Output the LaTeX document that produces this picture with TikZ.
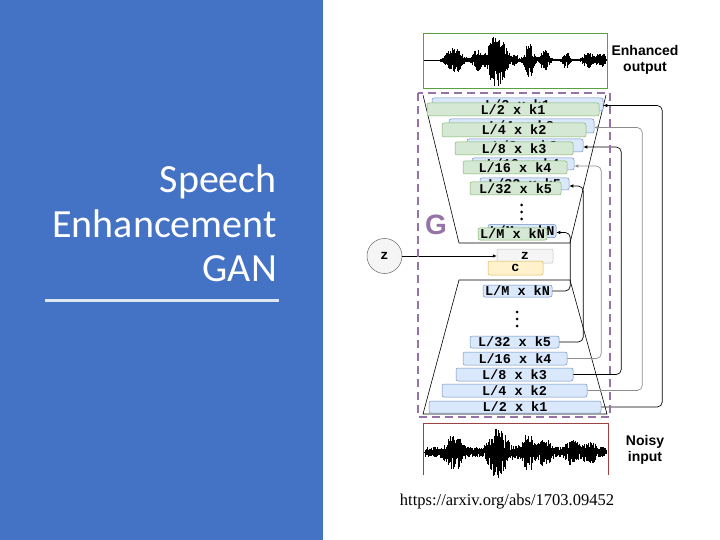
\documentclass[tikz,border=0pt]{standalone}
\usepackage{fontspec}
\setmainfont{Liberation Sans}
\newfontfamily\titlefont{Carlito}
\newfontfamily\layerfont{Liberation Mono}
\newfontfamily\urlfont{Liberation Serif}
\usetikzlibrary{arrows.meta}
\definecolor{panel}{HTML}{4472C4}
\definecolor{gfill}{HTML}{D5E8D4}
\definecolor{gdraw}{HTML}{82B366}
\definecolor{bfill}{HTML}{DAE8FC}
\definecolor{bdraw}{HTML}{6C8EBF}
\definecolor{purp}{HTML}{9673A6}
\definecolor{yfill}{HTML}{FFF2CC}
\definecolor{ydraw}{HTML}{D6B656}
\definecolor{zfill}{HTML}{F5F5F5}
\definecolor{zdraw}{HTML}{666666}
\definecolor{wavegreen}{HTML}{5AA03E}
\definecolor{wavered}{HTML}{A04040}
\definecolor{rulecol}{RGB}{222,230,244}
\pgfmathdeclarefunction{bump}{3}{\pgfmathparse{1/(1+(min(abs(#1-#2)/#3,10))^4)}}
\tikzset{
  layer/.style={rounded corners=2pt, inner sep=0pt, line width=0.5pt,
    font=\layerfont\bfseries\fontsize{13.5}{13.5}\selectfont},
  glayer/.style={layer, fill=gfill, draw=gdraw},
  blayer/.style={layer, fill=bfill, draw=bdraw},
  trap/.style={draw=black, line width=0.6pt},
  skipblack/.style={draw=black, line width=0.7pt, rounded corners=5pt, -{Latex[length=4pt,width=3.5pt]}},
  skipgray/.style={draw=black!45, line width=0.7pt, rounded corners=5pt, -{Latex[length=4pt,width=3.5pt]}},
  wave/.style={draw=black, line width=0.45pt},
  sidelabel/.style={font=\bfseries\fontsize{14}{16.5}\selectfont, align=center, inner sep=0pt},
  titleline/.style={font=\titlefont\fontsize{40}{44}\selectfont, text=white, anchor=base east, inner sep=0pt},
}
\begin{document}
\begin{tikzpicture}[x=1pt,y=-1pt]
\useasboundingbox (0,0) rectangle (720,540);
% left panel
\fill[panel] (0,0) rectangle (323,540);
\node[titleline] (t1) at (277,193) {Speech};
\node[titleline] (t2) at (277,237) {Enhancement};
\node[titleline] (t3) at (277,281) {GAN};
\draw[rulecol, line width=3pt] (45,300) -- (279,300);

% waveform boxes
\node[draw=wavegreen, line width=0.8pt, minimum width=184pt, minimum height=55pt, inner sep=0pt] (outbox) at (515,60.5) {};
\draw[wavered, line width=0.8pt] (423,475) -- (423,423) -- (608,423) -- (608,475);
\pgfmathsetseed{11}
\draw[wave] (424,60) -- (606,60);
\foreach \x in {440,440.5,...,606}{
  \pgfmathsetmacro\wamp{0.7 + 12*bump(\x,454,8) + 9*bump(\x,477,4) + 24*bump(\x,497,9) + 4*bump(\x,515,2.5) + 15*bump(\x,529,4.5) + 10*bump(\x,545,4) + 7*bump(\x,566,3.5) + 7*bump(\x,588,5) + 6*bump(\x,601,5)}
  \pgfmathsetmacro\wup{\wamp*(0.15+0.85*rnd^0.7)}
  \pgfmathsetmacro\wdn{\wamp*(0.15+0.95*rnd^0.7)}
  \draw[wave] (\x,60-\wup) -- (\x,60+\wdn);
}
\draw[wave] (424,452) -- (606,452);
\foreach \x in {425,425.5,...,606}{
  \pgfmathsetmacro\wamp{4.5 + 12*bump(\x,454,8) + 19*bump(\x,498,9) + 13*bump(\x,528,6) + 8*bump(\x,545,6) + 8*bump(\x,572,6) + 6*bump(\x,590,7)}
  \pgfmathsetmacro\wup{\wamp*(0.1+0.9*rnd^0.8)}
  \pgfmathsetmacro\wdn{\wamp*(0.1+1.0*rnd^0.8)}
  \draw[wave] (\x,452-\wup) -- (\x,452+\wdn);
}
\node[sidelabel] (enh) at (645,60) {Enhanced\\output};
\node[sidelabel] (noisy) at (645,450) {Noisy\\input};

% trapezoids
\draw[trap] (423,95) -- (459,243) -- (570,243) -- (606,95);
\draw[trap] (459,280) -- (570,280) -- (607,414) -- (423,414) -- cycle;

% encoder layers (top)
\node[blayer, minimum width=171pt, minimum height=13pt] (e1b) at (517.5,104.5) {L/2 x k1};
\node[glayer, minimum width=172pt, minimum height=13pt] (e1) at (513,109.5) {L/2 x k1};
\node[blayer, minimum width=145pt, minimum height=14pt] (e2b) at (521.5,126) {L/4 x k2};
\node[glayer, minimum width=144pt, minimum height=14pt] (e2) at (514,130) {L/4 x k2};
\node[blayer, minimum width=116pt, minimum height=13pt] (e3b) at (525,145.5) {L/8 x k3};
\node[glayer, minimum width=118pt, minimum height=13pt] (e3) at (514,148.5) {L/8 x k3};
\node[blayer, minimum width=102pt, minimum height=12pt] (e4b) at (523,164) {L/16 x k4};
\node[glayer, minimum width=104pt, minimum height=13pt] (e4) at (515,167.5) {L/16 x k4};
\node[blayer, minimum width=89pt, minimum height=12pt] (e5b) at (524.5,184) {L/32 x k5};
\node[glayer, minimum width=91pt, minimum height=13pt] (e5) at (515.5,188.5) {L/32 x k5};
\fill (521.5,205) circle (1.5) (521.5,212) circle (1.5) (521.5,219) circle (1.5);
\node[blayer, minimum width=68pt, minimum height=13pt] (eNb) at (522,231) {L/M x kN};
\node[glayer, minimum width=69pt, minimum height=12pt] (eN) at (512.5,234) {L/M x kN};

% latent
\node[draw=zdraw, fill=zfill, circle, minimum size=35pt, inner sep=0pt, line width=0.5pt,
  font=\layerfont\bfseries\fontsize{13.5}{13.5}\selectfont] (zc) at (384.5,256) {z};
\node[layer, fill=zfill, draw=black!25, minimum width=56pt, minimum height=14pt] (zb) at (525,256) {z};
\node[layer, fill=yfill, draw=ydraw, minimum width=55pt, minimum height=14pt] (cb) at (515.5,268) {c};
\draw[line width=0.6pt, -{Latex[length=4pt,width=3.5pt]}] (zc) -- (zb);

% decoder layers (bottom)
\node[blayer, minimum width=69pt, minimum height=12pt] (dN) at (517.5,291) {L/M x kN};
\fill (517,312) circle (1.5) (517,319) circle (1.5) (517,326) circle (1.5);
\node[blayer, minimum width=89pt, minimum height=12pt] (d5) at (514.5,342) {L/32 x k5};
\node[blayer, minimum width=104pt, minimum height=13pt] (d4) at (515,358.5) {L/16 x k4};
\node[blayer, minimum width=117pt, minimum height=13pt] (d3) at (514.5,374.5) {L/8 x k3};
\node[blayer, minimum width=145pt, minimum height=13pt] (d2) at (514.5,390.5) {L/4 x k2};
\node[blayer, minimum width=172pt, minimum height=12pt] (d1) at (515,407) {L/2 x k1};

% skip connections
\draw[skipblack] (d1.east) -- ++(61,0) |- ([yshift=-1pt]e1b.east);
\draw[skipgray] (d2.east) -- ++(55,0) |- ([yshift=-1.5pt]e2b.east);
\draw[skipblack] (d3.east) -- ++(48,0) |- ([yshift=-1.5pt]e3b.east);
\draw[skipgray] (d4.east) -- ++(34,0) |- ([yshift=-2pt]e4b.east);
\draw[skipblack] (d5.east) -- ++(24,0) |- ([yshift=-2pt]e5b.east);
\draw[skipblack] (dN.east) -- ++(18,0) |- ([yshift=-1.5pt]eNb.east);

% generator frame
\draw[purp, line width=2.4pt, dash pattern=on 8pt off 5pt] (418,93) rectangle (610,417);
\node[font=\bfseries\fontsize{28}{28}\selectfont, text=purp, inner sep=0pt] (G) at (436,225) {G};

\node[font=\urlfont\fontsize{16.5}{16.5}\selectfont, anchor=base, inner sep=0pt] (url) at (507,505) {https://arxiv.org/abs/1703.09452};
\end{tikzpicture}
\end{document}
